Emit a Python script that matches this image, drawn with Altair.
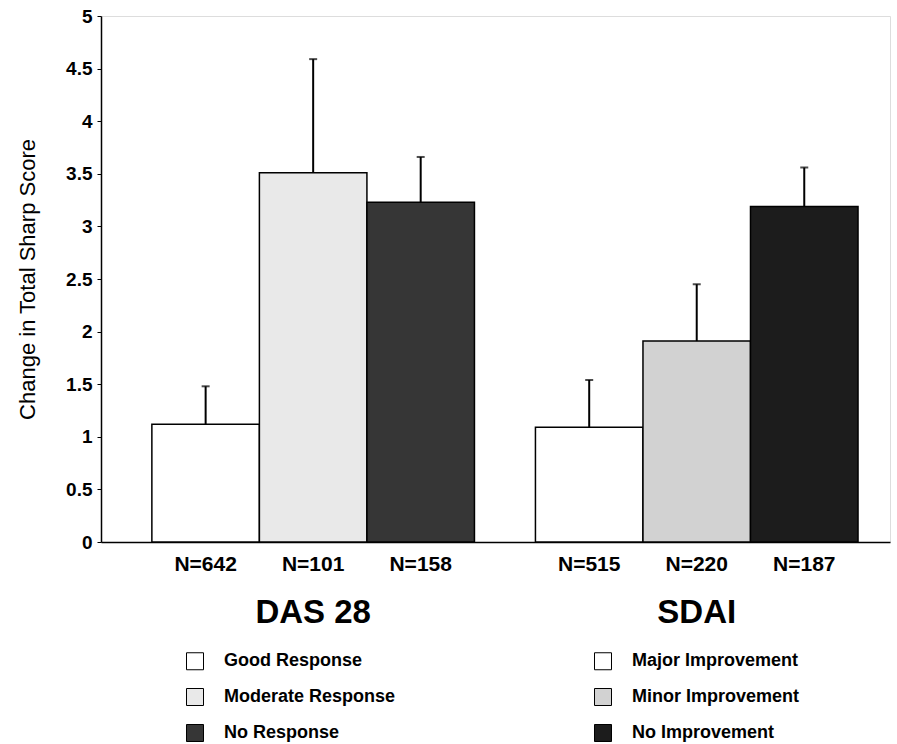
import altair as alt
import pandas as pd

groups = ["DAS 28", "DAS 28", "DAS 28", "SDAI", "SDAI", "SDAI"]
levels = ["1", "2", "3", "1", "2", "3"]
categories = ["Good Response", "Moderate Response", "No Response",
              "Major Improvement", "Minor Improvement", "No Improvement"]
means = [1.12, 3.51, 3.23, 1.09, 1.91, 3.19]
err_tops = [1.48, 4.59, 3.66, 1.54, 2.45, 3.56]
n_labels = ["N=642", "N=101", "N=158", "N=515", "N=220", "N=187"]
y_ticks = [0, 0.5, 1, 1.5, 2, 2.5, 3, 3.5, 4, 4.5, 5]
fill_colors = ["#ffffff", "#e9e9e9", "#363636", "#ffffff", "#d2d2d2", "#1c1c1c"]

df = pd.DataFrame({"group": groups, "level": levels, "category": categories,
                   "mean": means, "err": err_tops, "n": n_labels})

FONT = "Liberation Sans"

x_enc = alt.X("group:N", sort=["DAS 28", "SDAI"],
              scale=alt.Scale(paddingInner=0.159, paddingOuter=0.108, align=0.614),
              axis=alt.Axis(title=None, labelAngle=0, ticks=False, labelFontSize=33,
                            labelFontWeight="bold", labelPadding=54, labelColor="black",
                            domainColor="black", domainWidth=1.5, labelFont=FONT))
xo_enc = alt.XOffset("level:N", scale=alt.Scale(paddingInner=0, paddingOuter=0))
y_scale = alt.Scale(domain=[0, 5], nice=False)

base = alt.Chart(df)

bars = base.mark_bar(stroke="black", strokeWidth=1.5).encode(
    x=x_enc, xOffset=xo_enc,
    y=alt.Y("mean:Q", scale=y_scale,
            axis=alt.Axis(values=y_ticks, format="~g", title="Change in Total Sharp Score",
                          titleFontSize=22, titleFont=FONT, titleFontWeight="normal",
                          titleColor="black", titlePadding=26,
                          labelFontSize=19, labelFontWeight="bold", labelFont=FONT,
                          labelColor="black", labelPadding=5, tickSize=4,
                          tickColor="black", domainColor="black", domainWidth=1.5,
                          grid=False)),
    fill=alt.Fill("category:N",
                  scale=alt.Scale(domain=categories, range=fill_colors),
                  legend=alt.Legend(title=None, orient="none", legendX=85, legendY=636,
                                    columns=2, columnPadding=196, rowPadding=14,
                                    symbolType="square", symbolSize=289,
                                    symbolStrokeColor="black", symbolStrokeWidth=1,
                                    labelFontSize=18, labelFont=FONT, labelLimit=400,
                                    labelFontWeight="bold", labelColor="black",
                                    labelOffset=20)),
)

err_rule = base.mark_rule(color="black", strokeWidth=2).encode(
    x=x_enc, xOffset=xo_enc, y=alt.Y("mean:Q", scale=y_scale), y2="err:Q")

err_cap = base.mark_tick(color="black", thickness=2, size=8).encode(
    x=x_enc, xOffset=xo_enc, y=alt.Y("err:Q", scale=y_scale))

n_text = base.mark_text(fontSize=21, fontWeight="bold", font=FONT, color="black",
                        baseline="middle").encode(
    x=x_enc, xOffset=xo_enc, y=alt.value(549), text="n:N")

chart = alt.layer(bars, err_rule, err_cap, n_text).properties(
    width=789, height=526,
    padding={"left": 101, "top": 16, "right": 7, "bottom": 202},
    autosize=alt.AutoSizeParams(type="none"),
).configure_view(stroke=None).configure(background="white")

chart.save("out.html", embed_options={"renderer": "svg", "actions": False})
